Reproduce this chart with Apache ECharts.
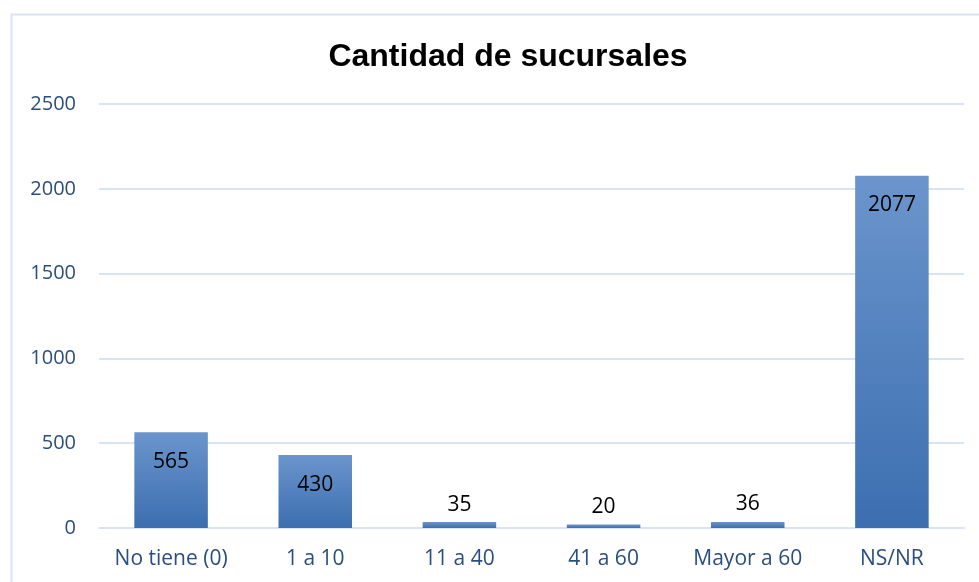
<!DOCTYPE html>
<html>
<head>
<meta charset="utf-8">
<script src="https://cdn.jsdelivr.net/npm/echarts@6/dist/echarts.min.js"></script>
<style>
html, body { margin: 0; padding: 0; background: #fff; }
#main { width: 979px; height: 582px; }
</style>
</head>
<body>
<div id="main"></div>
<script>
// datos del gráfico
var categorias = ['No tiene (0)', '1 a 10', '11 a 40', '41 a 60', 'Mayor a 60', 'NS/NR'];
var valores = [565, 430, 35, 20, 36, 2077];
var ticksY = [0, 500, 1000, 1500, 2000, 2500];

var azulTexto = '#2A4E7E';
var grisLinea = '#D6E4F5';
var fuente = 'Open Sans';

// etiquetas: dentro de la barra si es alta, arriba si es baja
var serieData = [];
for (var i = 0; i < valores.length; i++) {
	var grande = valores[i] > 200;
	serieData.push({
		value: valores[i],
		label: {
			position: grande ? 'insideTop' : 'top',
			distance: grande ? 19 : 7
		}
	});
}

var chart = echarts.init(document.getElementById('main'));
chart.setOption({
	animation: false,
	title: {
		text: 'Cantidad de sucursales',
		left: 503,
		top: 36,
		textAlign: 'center',
		textStyle: {
			fontFamily: 'Liberation Sans',
			fontWeight: 'bold',
			fontSize: 32,
			color: '#000'
		}
	},
	graphic: [{
		type: 'rect',
		shape: { x: 11.5, y: 14.5, width: 1000, height: 600 },
		style: { fill: 'none', stroke: grisLinea, lineWidth: 2 },
		silent: true
	}],
	grid: {
		left: 99,
		right: 15,
		top: 104,
		bottom: 54
	},
	xAxis: {
		type: 'category',
		data: categorias,
		axisLine: { show: true, lineStyle: { color: grisLinea, width: 2 } },
		axisTick: { show: false },
		axisLabel: {
			color: azulTexto,
			fontFamily: fuente,
			fontSize: 21,
			margin: 21,
			interval: 0,
			hideOverlap: false
		}
	},
	yAxis: {
		type: 'value',
		min: ticksY[0],
		max: ticksY[ticksY.length - 1],
		interval: 500,
		axisLine: { show: false },
		axisTick: { show: false },
		splitLine: { lineStyle: { color: grisLinea, width: 2 } },
		axisLabel: {
			color: azulTexto,
			fontFamily: fuente,
			fontSize: 20,
			margin: 23,
			formatter: function (v) { return String(v); }
		}
	},
	series: [{
		type: 'bar',
		data: serieData,
		barWidth: '51%',
		itemStyle: {
			color: new echarts.graphic.LinearGradient(0, 0, 0, 1, [
				{ offset: 0, color: '#6B95CC' },
				{ offset: 1, color: '#3C6EB0' }
			])
		},
		label: {
			show: true,
			color: '#000',
			fontFamily: fuente,
			fontSize: 21
		}
	}]
});
</script>
</body>
</html>
